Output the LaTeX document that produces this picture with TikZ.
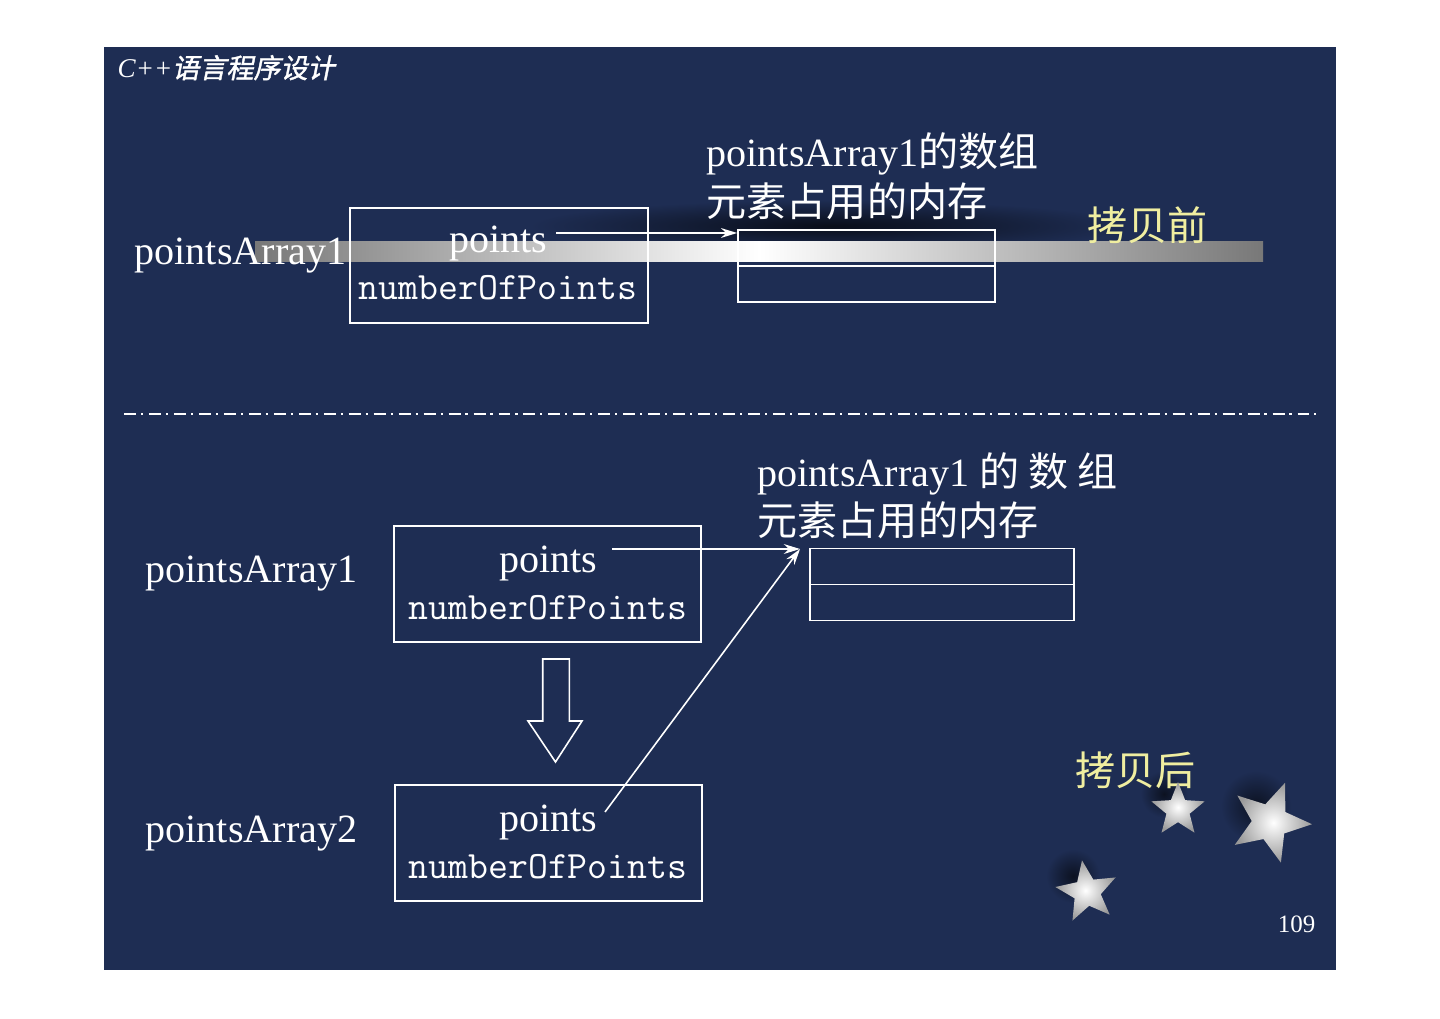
\documentclass[tikz,border=0pt]{standalone}
\usepackage{fontspec}
\setmainfont{Liberation Serif}
\newfontfamily\cjk{Noto Sans CJK SC}
\newfontfamily\cjkhead{Noto Sans CJK SC}[FakeSlant=0.2,FakeBold=1.5]
\usetikzlibrary{shapes.geometric,arrows.meta,positioning}
\definecolor{slide}{RGB}{30,45,83}
\definecolor{bargray}{RGB}{120,120,120}
\definecolor{note}{RGB}{240,238,160}
\newcommand{\bodyfont}{\fontsize{11.4pt}{13.7pt}\selectfont}
\newcommand{\monofont}{\fontsize{11pt}{13pt}\selectfont\ttfamily}

\begin{document}
\begin{tikzpicture}[x=0.01cm, y=-0.01cm, >={Stealth[length=4.6pt,width=2.8pt]},
    lbl/.style={text=white, inner sep=0pt, font=\bodyfont, anchor=base west},
    field/.style={text=white, inner sep=0pt, anchor=base},
    objbox/.style={draw=white, line width=0.45pt, minimum width=3.07cm, minimum height=1.16cm, inner sep=0pt},
    membox/.style={draw=white, line width=0.45pt, minimum width=2.57cm, minimum height=0.72cm, inner sep=0pt},
    ptr/.style={->, white, line width=0.45pt},
    twinkle/.style={star, star points=5, star point ratio=2.3, inner sep=0pt, shading=radial, inner color=white, outer color=gray!80}]
    \useasboundingbox (0,0) rectangle (1440,1019);
    \fill [white] (0,0) rectangle (1440,1019);
    \fill [slide] (104,47) rectangle (1336,970);
    \node (title) [anchor=base west, text=white, inner sep=0pt, font=\fontsize{7.7pt}{9pt}\selectfont] at (117,78) {\itshape C++\cjkhead 语言程序设计};

    % before copying
    \shade [inner color=black!70!slide, outer color=slide] (830,226) ellipse (3cm and 0.26cm);
    \shade [left color=bargray, right color=bargray, middle color=white] (255,242) rectangle (1263,262);
    \node (arr1top) [lbl] at (134,265) {pointsArray1};
    \node (obj1) [objbox, minimum width=2.98cm, minimum height=1.15cm] at (499,265.5) {};
    \node (pts1) [field, font=\bodyfont] at (498,253) {points};
    \node (num1) [field, font=\monofont] at (498,300) {numberOfPoints};
    \node (mem1) [membox] at (866.5,266) {};
    \draw [white, line width=0.45pt] (mem1.west) -- (mem1.east);
    \node (desc1a) [lbl] at (706,167) {pointsArray1{\cjk 的数组}};
    \node (desc1b) [lbl] at (706,217) {\cjk 元素占用的内存};
    \node (before) [lbl, text=note] at (1087,241) {\cjk 拷贝前};
    \coordinate (src1) at (556,233);
    \draw [ptr] (src1) -- (src1 -| mem1.west);

    \draw [white, line width=0.6pt, dash pattern=on 3.4pt off 1.4pt on 0.6pt off 1.7pt] (124,414) -- (1316,414);

    % after copying
    \node (desc2a) [lbl] at (757,487) {pointsArray1 {\cjk 的 数 组}};
    \node (desc2b) [lbl] at (757,536) {\cjk 元素占用的内存};
    \node (arr1) [lbl] at (145,583) {pointsArray1};
    \node (arr2) [lbl] at (145,842) {pointsArray2};
    \node (objA) [objbox] at (547.5,584) {};
    \node (ptsA) [field, font=\bodyfont] at (548,572) {points};
    \node (numA) [field, font=\monofont] at (548,619) {numberOfPoints};
    \node (objB) [objbox] at (548.5,843) {};
    \node (ptsB) [field, font=\bodyfont] at (548,831) {points};
    \node (numB) [field, font=\monofont] at (548,878) {numberOfPoints};
    \node (mem2) [membox, minimum width=2.64cm] at (942,584.5) {};
    \draw [white, line width=0.45pt] (mem2.west) -- (mem2.east);
    \coordinate (srcA) at (612,549);
    \coordinate (srcB) at (605,812);
    \coordinate (tgt) at (800,549);
    \draw [ptr] (srcA) -- (tgt);
    \draw [ptr] (srcB) -- (tgt);
    \draw [white, line width=0.45pt] (542.7,659) -- (569.3,659) -- (569.3,721) -- (582,721)
        -- (555.5,762) -- (528,721) -- (542.7,721) -- cycle;

    % stars
    \foreach \x/\y/\d in {1178/810/0.56, 1270/822/0.84, 1087/892/0.64}
        \shade [inner color=black!60!slide, outer color=slide] (\x-14,\y-16) circle [radius={\d*0.42cm}];
    \node (after) [lbl, text=note] at (1075,785) {\cjk 拷贝后};
    \foreach \x/\y/\d/\rot/\n in {1178/810/0.56/0/a, 1270/822/0.84/-21/b, 1087/892/0.64/9/c}
        \node (star\n) [twinkle, minimum size=\d cm, rotate=\rot] at (\x,\y) {};
    \node (pageno) [anchor=base east, text=white, inner sep=0pt, font=\fontsize{7.1pt}{8pt}\selectfont] at (1316,932) {109};
\end{tikzpicture}
\end{document}
